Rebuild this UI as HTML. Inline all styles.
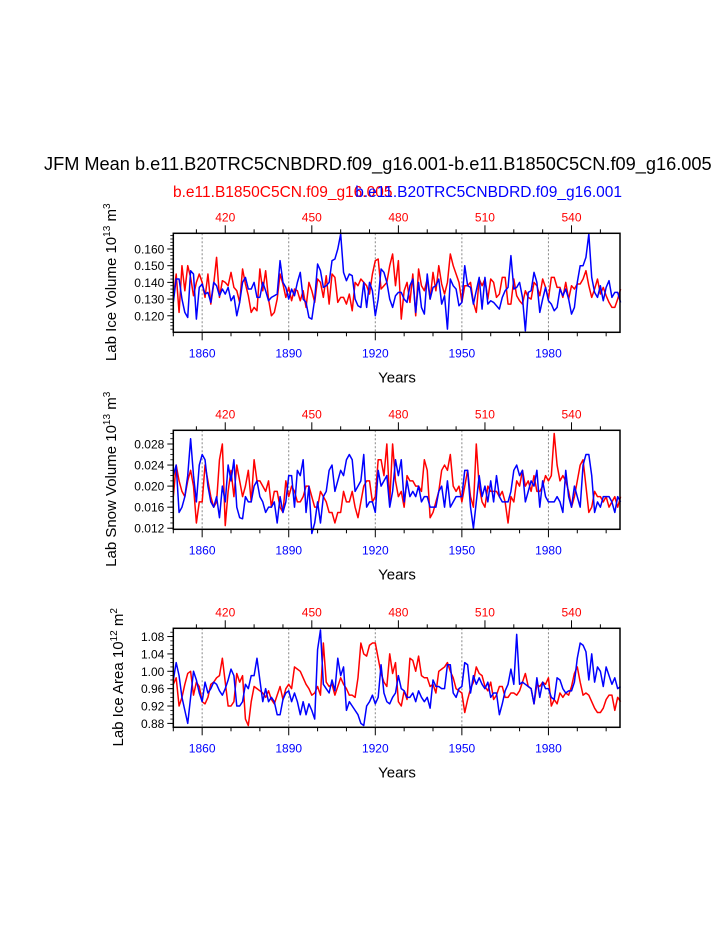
<!DOCTYPE html>
<html><head><meta charset="utf-8"><style>
html,body{margin:0;padding:0;background:#fff;}
svg{display:block;font-family:"Liberation Sans",Arial,sans-serif;}
</style></head><body>
<svg id="chart" width="723" height="935" viewBox="0 0 723 935">
<text x="44" y="170" font-size="18.2" fill="#000">JFM Mean b.e11.B20TRC5CNBDRD.f09_g16.001-b.e11.B1850C5CN.f09_g16.005</text>
<text x="173" y="197" font-size="15.5" fill="#ff0000">b.e11.B1850C5CN.f09_g16.005</text>
<text x="622" y="197" font-size="15.5" fill="#0000ff" text-anchor="end">b.e11.B20TRC5CNBDRD.f09_g16.001</text>
</svg>
<script>
// ---- data ----
const years = []; for (let y = 1850; y <= 2005; y++) years.push(y);
const iceVolBlue = [
0.128,0.142,0.142,0.130,0.122,0.119,0.147,0.145,0.118,0.137,
0.139,0.133,0.134,0.128,0.140,0.138,0.132,0.136,0.133,0.137,
0.129,0.132,0.120,0.128,0.140,0.143,0.136,0.136,0.140,0.131,
0.131,0.140,0.135,0.129,0.131,0.132,0.133,0.153,0.140,0.137,
0.130,0.136,0.132,0.140,0.146,0.130,0.128,0.119,0.118,0.130,
0.151,0.147,0.137,0.138,0.140,0.153,0.154,0.160,0.169,0.146,
0.141,0.145,0.144,0.130,0.126,0.125,0.140,0.125,0.140,0.135,
0.120,0.130,0.148,0.146,0.140,0.130,0.125,0.132,0.134,0.134,
0.130,0.128,0.138,0.142,0.122,0.140,0.125,0.121,0.145,0.130,
0.137,0.138,0.142,0.127,0.132,0.112,0.142,0.138,0.136,0.126,
0.128,0.150,0.138,0.137,0.127,0.135,0.143,0.124,0.143,0.127,
0.129,0.128,0.126,0.124,0.131,0.135,0.137,0.156,0.136,0.137,
0.140,0.131,0.111,0.134,0.135,0.146,0.140,0.122,0.130,0.137,
0.129,0.127,0.123,0.125,0.136,0.132,0.136,0.130,0.121,0.125,
0.140,0.150,0.150,0.155,0.169,0.143,0.134,0.131,0.138,0.129,
0.137,0.141,0.131,0.134,0.134,0.128];
const iceVolRed = [
0.130,0.145,0.122,0.150,0.135,0.150,0.143,0.132,0.140,0.145,
0.140,0.131,0.145,0.127,0.139,0.155,0.131,0.141,0.140,0.138,
0.146,0.137,0.135,0.128,0.148,0.139,0.132,0.122,0.125,0.123,
0.148,0.135,0.147,0.130,0.120,0.122,0.130,0.145,0.139,0.131,
0.137,0.129,0.136,0.135,0.129,0.135,0.125,0.140,0.135,0.128,
0.142,0.140,0.131,0.144,0.127,0.145,0.143,0.128,0.131,0.131,
0.127,0.133,0.123,0.140,0.138,0.142,0.140,0.138,0.133,0.145,
0.153,0.154,0.136,0.138,0.140,0.150,0.157,0.138,0.153,0.118,
0.135,0.140,0.128,0.145,0.120,0.148,0.138,0.135,0.142,0.130,
0.146,0.135,0.150,0.139,0.133,0.140,0.157,0.150,0.145,0.140,
0.128,0.138,0.138,0.140,0.128,0.122,0.142,0.138,0.142,0.130,
0.142,0.140,0.131,0.133,0.143,0.143,0.127,0.127,0.142,0.132,
0.129,0.127,0.135,0.131,0.130,0.140,0.138,0.132,0.142,0.137,
0.130,0.143,0.143,0.137,0.137,0.131,0.140,0.130,0.138,0.136,
0.139,0.139,0.142,0.147,0.138,0.131,0.136,0.142,0.133,0.137,
0.132,0.128,0.125,0.125,0.130,0.136];
const snowBlue = [
0.022,0.024,0.015,0.016,0.018,0.022,0.029,0.022,0.017,0.024,
0.026,0.025,0.020,0.017,0.016,0.018,0.014,0.020,0.017,0.024,
0.021,0.025,0.016,0.014,0.0138,0.018,0.017,0.017,0.020,0.021,
0.018,0.017,0.015,0.016,0.016,0.017,0.013,0.018,0.015,0.017,
0.022,0.022,0.016,0.023,0.022,0.025,0.015,0.020,0.011,0.013,
0.017,0.013,0.018,0.019,0.023,0.024,0.019,0.021,0.023,0.022,
0.025,0.026,0.025,0.019,0.020,0.021,0.026,0.016,0.017,0.017,
0.015,0.023,0.020,0.021,0.022,0.016,0.019,0.025,0.022,0.025,
0.017,0.021,0.018,0.019,0.018,0.020,0.017,0.018,0.018,0.016,
0.016,0.016,0.019,0.020,0.016,0.021,0.016,0.017,0.018,0.018,
0.018,0.023,0.023,0.016,0.012,0.017,0.022,0.018,0.020,0.017,
0.021,0.017,0.022,0.018,0.017,0.017,0.017,0.019,0.023,0.024,
0.022,0.023,0.017,0.019,0.021,0.020,0.023,0.016,0.021,0.018,
0.017,0.017,0.017,0.018,0.017,0.015,0.023,0.018,0.016,0.020,
0.018,0.016,0.024,0.026,0.026,0.022,0.015,0.017,0.016,0.018,
0.018,0.018,0.017,0.015,0.018,0.017];
const snowRed = [
0.018,0.024,0.021,0.019,0.018,0.021,0.023,0.020,0.013,0.017,
0.017,0.024,0.021,0.018,0.016,0.017,0.025,0.028,0.0125,0.019,
0.023,0.018,0.024,0.021,0.018,0.020,0.023,0.017,0.025,0.021,
0.021,0.020,0.019,0.021,0.016,0.019,0.019,0.016,0.015,0.021,
0.018,0.020,0.019,0.017,0.017,0.018,0.020,0.020,0.018,0.016,
0.016,0.019,0.018,0.017,0.015,0.015,0.013,0.015,0.015,0.019,
0.017,0.017,0.019,0.016,0.014,0.017,0.020,0.021,0.021,0.017,
0.018,0.025,0.025,0.022,0.028,0.017,0.028,0.021,0.018,0.019,
0.016,0.022,0.021,0.021,0.020,0.020,0.019,0.025,0.023,0.014,
0.015,0.017,0.019,0.023,0.024,0.023,0.026,0.020,0.019,0.020,
0.017,0.020,0.023,0.018,0.016,0.028,0.020,0.017,0.016,0.020,
0.019,0.019,0.019,0.018,0.019,0.017,0.013,0.018,0.017,0.021,
0.020,0.023,0.020,0.021,0.019,0.022,0.019,0.019,0.020,0.022,
0.021,0.022,0.030,0.024,0.021,0.022,0.021,0.019,0.016,0.018,
0.021,0.024,0.025,0.020,0.015,0.016,0.019,0.018,0.018,0.017,
0.018,0.016,0.017,0.018,0.016,0.018];
const areaBlue = [
0.98,1.02,0.99,0.94,0.91,0.88,0.94,1.00,0.98,0.95,
0.93,0.975,0.95,0.96,0.975,0.97,0.955,0.945,0.96,0.98,
1.005,0.99,0.92,0.92,0.93,0.97,0.96,0.99,0.99,1.03,
0.98,0.93,0.96,0.93,0.94,0.93,0.90,0.90,0.935,0.95,
0.955,0.93,0.95,0.93,0.90,0.93,0.90,0.925,0.91,0.89,
1.05,1.095,0.97,0.96,0.95,0.98,0.955,1.03,0.99,1.01,
0.91,0.93,0.92,0.91,0.90,0.88,0.875,0.92,0.93,0.945,
0.925,0.94,1.015,0.95,0.93,0.925,0.94,0.95,0.99,0.96,
0.955,0.94,0.94,0.95,0.93,0.955,0.94,0.93,0.94,0.915,
0.98,0.965,0.965,0.96,0.96,1.015,1.015,0.95,0.94,0.96,
0.965,1.02,1.015,0.95,0.99,0.97,0.985,0.97,0.96,0.975,
0.94,0.95,0.95,0.90,0.925,0.955,0.97,1.005,0.97,1.085,
0.97,0.975,0.97,0.965,0.96,0.925,0.985,0.94,0.975,0.96,
0.96,0.94,0.935,0.985,0.98,0.96,0.95,0.955,0.955,0.975,
1.03,1.065,1.06,1.045,0.98,1.04,0.975,1.01,1.00,0.965,
1.01,0.99,0.97,0.985,0.96,0.965];
const areaRed = [
0.97,0.985,0.92,0.94,0.97,0.995,1.00,0.945,0.975,0.965,
0.93,0.925,0.94,0.97,0.975,0.985,0.99,1.03,0.975,0.92,
0.92,0.93,0.995,0.975,0.99,0.89,0.875,0.93,0.965,0.96,
0.955,0.95,0.94,0.955,0.935,0.925,0.945,0.965,0.935,0.96,
0.97,0.96,1.01,1.005,1.00,0.985,0.97,0.96,0.945,0.95,
0.965,0.945,1.065,0.975,0.965,0.97,0.945,0.965,0.985,0.97,
0.96,0.945,0.945,0.94,0.985,1.065,1.04,1.035,1.06,1.065,
1.065,1.03,0.995,0.975,0.965,1.04,0.995,1.02,0.93,0.92,
0.955,0.935,1.03,1.025,1.00,1.035,0.99,0.985,0.985,0.965,
0.97,0.95,1.00,1.005,1.01,1.02,1.00,0.985,0.96,0.955,
0.95,0.905,0.935,0.96,0.975,1.01,0.995,0.99,0.965,0.955,
0.975,0.935,0.945,0.965,0.965,0.94,0.94,0.95,0.95,0.945,
0.955,0.975,0.995,0.965,0.96,0.925,0.97,0.965,0.975,0.97,
0.985,0.92,0.935,0.925,0.95,0.94,0.95,0.945,0.965,0.995,
1.01,0.975,0.945,0.95,0.945,0.93,0.915,0.905,0.905,0.915,
0.935,0.945,0.945,0.91,0.94,0.93];
const bottomTicks = [1860, 1890, 1920, 1950, 1980];
const topTicks = [420, 450, 480, 510, 540];
const volTicks = ["0.120","0.130","0.140","0.150","0.160"];
const snowTicks = ["0.012","0.016","0.020","0.024","0.028"];
const areaTicks = ["0.88","0.92","0.96","1.00","1.04","1.08"];

const svg = document.getElementById('chart');
const NS = 'http://www.w3.org/2000/svg';
function mk(tag, attrs, parent) {
  const e = document.createElementNS(NS, tag);
  for (const k in attrs) e.setAttribute(k, attrs[k]);
  (parent || svg).appendChild(e);
  return e;
}
const X0 = 173.3, X1 = 620, YR0 = 1850, YR1 = 2004.8;
function xs(yr) { return X0 + (yr - YR0) / (YR1 - YR0) * (X1 - X0); }

function panel(cfg) {
  const g = mk('g', {});
  
  
  const top = cfg.top, bot = cfg.top + 99;
  const ys = v => bot - (v - cfg.ymin) / (cfg.ymax - cfg.ymin) * (bot - top);
  bottomTicks.forEach(t => {
    const l = mk('line', {x1: xs(t), x2: xs(t), y1: top, y2: bot, stroke: '#888', 'stroke-width': 1, 'stroke-dasharray': '2,2'}, g);
    
    
  });
  [[cfg.red, '#ff0000', 'control'], [cfg.blue, '#0000ff', 'experiment']].forEach(([arr, col, nm]) => {
    const pts = arr.map((v, i) => xs(years[i]).toFixed(2) + ',' + ys(v).toFixed(2)).join(' ');
    const p = mk('polyline', {points: pts, fill: 'none', stroke: col, 'stroke-width': 1.5, 'stroke-linejoin': 'round'}, g);
    
    
  });
  const fr = mk('rect', {x: X0, y: top, width: X1 - X0, height: bot - top, fill: 'none', stroke: '#000', 'stroke-width': 1.5}, g);
  
  
  for (let yr = 1850; yr <= 2000; yr += 10) {
    const major = bottomTicks.includes(yr);
    mk('line', {x1: xs(yr), x2: xs(yr), y1: bot, y2: bot + (major ? 8 : 4), stroke: '#000', 'stroke-width': 1}, g);
  }
  bottomTicks.forEach(t => {
    const tx = mk('text', {x: xs(t), y: bot + 25, 'font-size': 12, fill: '#0000ff', 'text-anchor': 'middle'}, g);
    tx.textContent = t;
    
    
  });
  for (let v = 410; v <= 550; v += 10) {
    const major = topTicks.includes(v);
    const xx = xs(v + 1448);
    if (xx < X0 || xx > X1) continue;
    mk('line', {x1: xx, x2: xx, y1: top, y2: top - (major ? 8 : 4), stroke: '#000', 'stroke-width': 1}, g);
  }
  topTicks.forEach(t => {
    const tx = mk('text', {x: xs(t + 1448), y: top - 12, 'font-size': 12, fill: '#ff0000', 'text-anchor': 'middle'}, g);
    tx.textContent = t;
    
    
  });
  for (let v = Math.ceil(cfg.ymin / cfg.minor - 1e-6) * cfg.minor; v <= cfg.ymax + 1e-9; v += cfg.minor) {
    mk('line', {x1: X0, x2: X0 - 3, y1: ys(v), y2: ys(v), stroke: '#000', 'stroke-width': 0.8}, g);
  }
  cfg.ticks.forEach(t => {
    const v = parseFloat(t);
    mk('line', {x1: X0, x2: X0 - 6, y1: ys(v), y2: ys(v), stroke: '#000', 'stroke-width': 1}, g);
    const tx = mk('text', {x: X0 - 9, y: ys(v) + 4.5, 'font-size': 12, fill: '#000', 'text-anchor': 'end'}, g);
    tx.textContent = t;
    
    
  });
  const xt = mk('text', {x: 397, y: bot + 50, 'font-size': 15, fill: '#000', 'text-anchor': 'middle'}, g);
  xt.textContent = 'Years';
  
  
  const yt = mk('text', {transform: 'translate(' + cfg.ytx + ',' + (top + 49) + ') rotate(-90)', 'font-size': 15, fill: '#000', 'text-anchor': 'middle'}, g);
  
  
  yt.innerHTML = cfg.ytitle + ' 10<tspan dy="-6" font-size="10">' + cfg.exp + '</tspan><tspan dy="6"> m</tspan><tspan dy="-6" font-size="10">' + cfg.unitExp + '</tspan>';
}

panel({name: 'panel-ice-volume', top: 233.3, ymin: 0.1101, ymax: 0.1694, minor: 0.002, ticks: volTicks,
  blue: iceVolBlue, red: iceVolRed, ytitle: 'Lab Ice Volume', exp: '13', unitExp: '3', ytx: 116});
panel({name: 'panel-snow-volume', top: 430.3, ymin: 0.0118, ymax: 0.0306, minor: 0.001, ticks: snowTicks,
  blue: snowBlue, red: snowRed, ytitle: 'Lab Snow Volume', exp: '13', unitExp: '3', ytx: 116});
panel({name: 'panel-ice-area', top: 628.3, ymin: 0.871, ymax: 1.099, minor: 0.01, ticks: areaTicks,
  blue: areaBlue, red: areaRed, ytitle: 'Lab Ice Area', exp: '12', unitExp: '2', ytx: 123});
</script>
</body></html>
